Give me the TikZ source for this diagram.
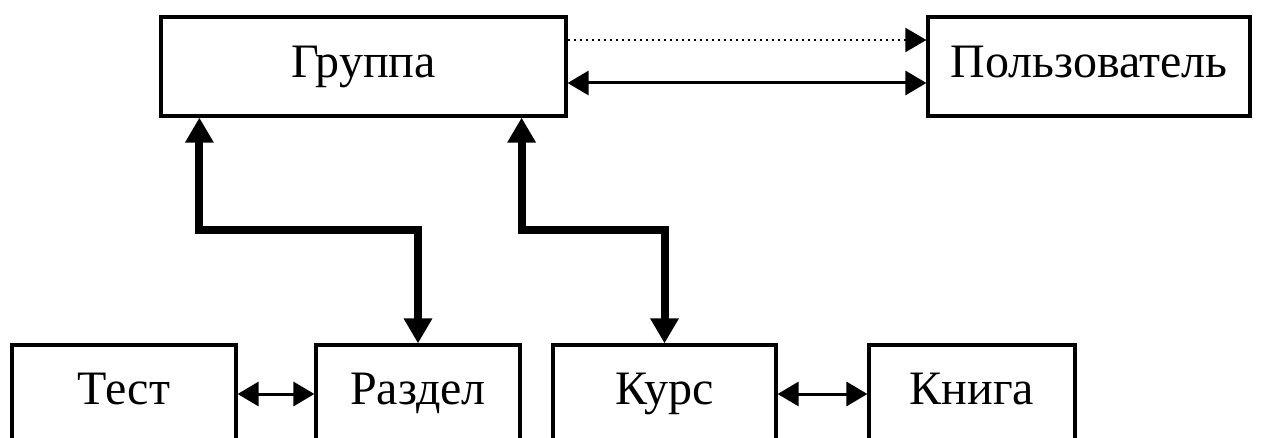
\documentclass[tikz,border=0pt]{standalone}
\usepackage{fontspec}
\setmainfont{Liberation Serif}
\usetikzlibrary{arrows.meta}

\begin{document}
\begin{tikzpicture}[
  x=0.5pt,y=-0.5pt,
  font=\fontsize{24}{28}\selectfont,
  box/.style={rectangle,draw=black,line width=1.6pt,fill=white,
              minimum height=49.5pt,inner sep=0pt,
              text height=16.8pt,text depth=6pt},
  arr/.style={{Triangle[width=12pt,length=10.5pt]}-{Triangle[width=12pt,length=10.5pt]},line width=1.5pt},
  dots/.style={-{Triangle[width=12pt,length=10.5pt]},line width=1pt,dotted},
  fat/.style={{Triangle[width=13.5pt,length=12.5pt]}-{Triangle[width=13.5pt,length=12.5pt]},line width=4pt},
]
\clip (0,0) rectangle (1262,438);

% ---------- top row ----------
\node[box,minimum width=202.5pt] (grp) at (363.5,66.5) {Группа};
\node[box,minimum width=161pt] (usr) at (1089,66.5) {Пользователь};

% ---------- bottom row (boxes run off the lower edge) ----------
\node[box,minimum width=112pt,minimum height=49pt] (test) at (124,394) {Тест};
\node[box,minimum width=102pt,minimum height=49pt] (razd) at (418,394) {Раздел};
\node[box,minimum width=111.5pt,minimum height=49pt] (kurs) at (664.5,394) {Курс};
\node[box,minimum width=103pt,minimum height=49pt] (kniga) at (972,394) {Книга};

% bends of the thick links
\coordinate (bendA) at (300,230);
\coordinate (bendB) at (600,230);

\draw[dots] ([yshift=13.25pt]grp.east) -- ([yshift=13.25pt]usr.west);
\draw[arr] ([yshift=-8.25pt]grp.east) -- ([yshift=-8.25pt]usr.west);

\draw[fat] ([xshift=20pt]grp.south west) |- (bendA) -| (razd.north);
\draw[fat] ([xshift=-23pt]grp.south east) |- (bendB) -| (kurs.north);

\draw[arr] (test.east) -- (razd.west);
\draw[arr] (kurs.east) -- (kniga.west);
\end{tikzpicture}
\end{document}
